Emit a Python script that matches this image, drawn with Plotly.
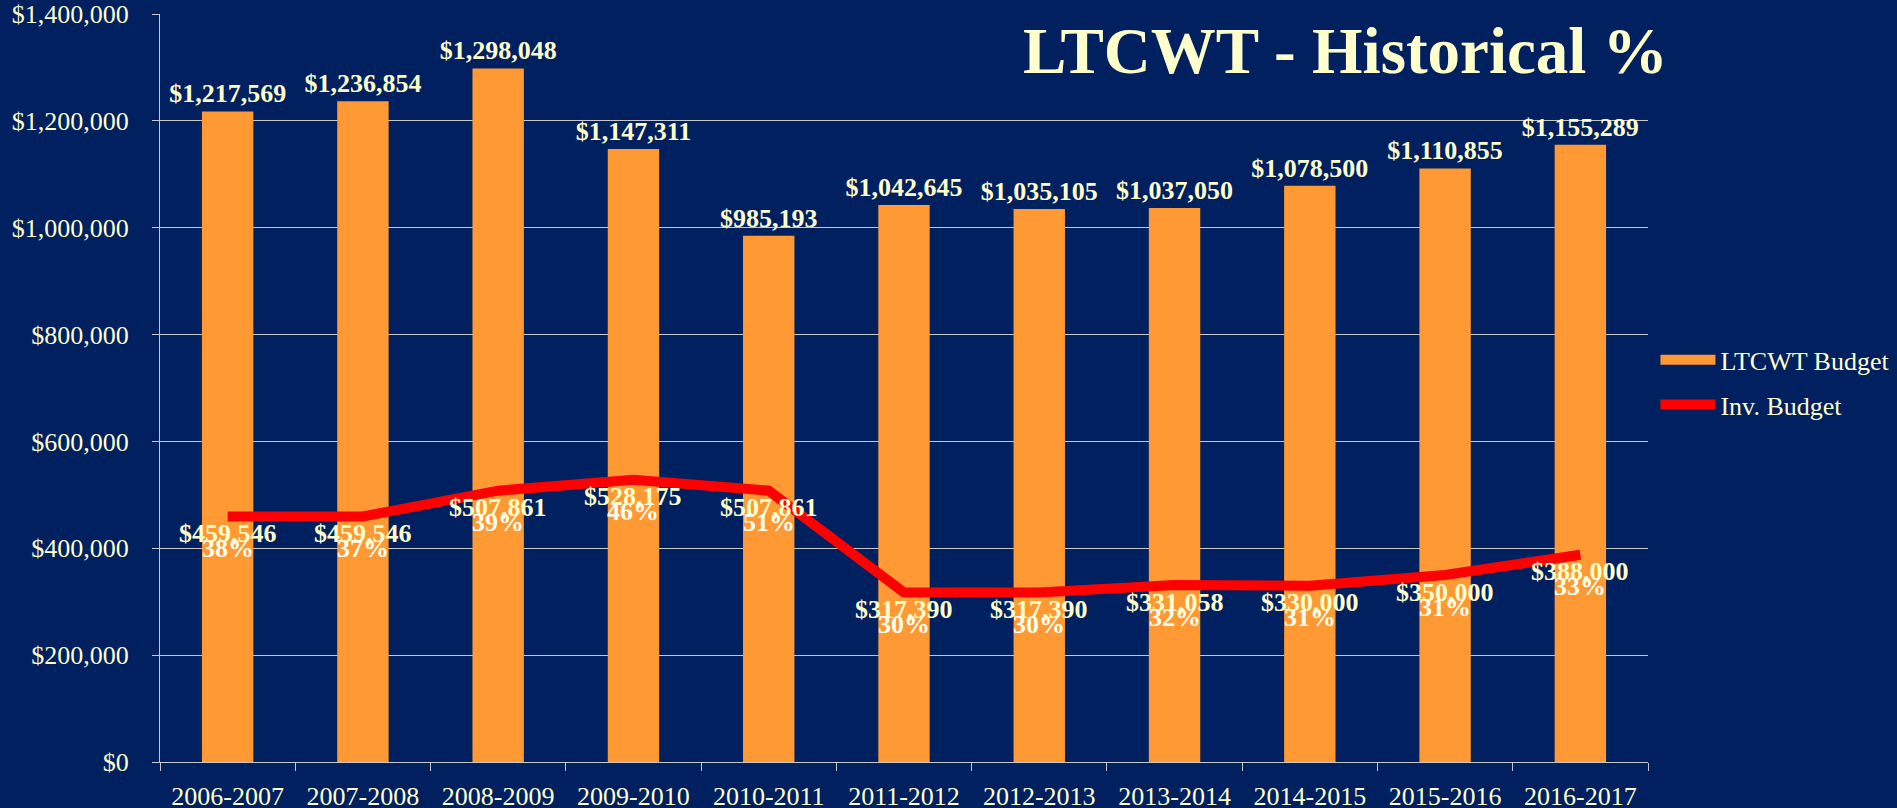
import plotly.graph_objects as go

categories = ["2006-2007", "2007-2008", "2008-2009", "2009-2010", "2010-2011", "2011-2012",
              "2012-2013", "2013-2014", "2014-2015", "2015-2016", "2016-2017"]
ltcwt_budget = [1217569, 1236854, 1298048, 1147311, 985193, 1042645,
                1035105, 1037050, 1078500, 1110855, 1155289]
inv_budget = [459546, 459546, 507861, 528175, 507861, 317390,
              317390, 331058, 330000, 350000, 388000]
inv_pct = [38, 37, 39, 46, 51, 30, 30, 32, 31, 31, 33]

FONT = "Liberation Serif"
CREAM = "#FFFFCC"
BG = "#002060"
ORANGE = "#FF9933"

fig = go.Figure()
fig.add_trace(go.Bar(
    x=categories, y=ltcwt_budget, name="LTCWT Budget",
    marker=dict(color=ORANGE, line=dict(width=0)),
    text=[f"${v:,}" for v in ltcwt_budget], textposition="outside",
    constraintext="none", cliponaxis=False,
    outsidetextfont=dict(family=FONT, size=26, color=CREAM, weight="bold"),
    showlegend=False,
))
# legend-only entry giving the bar series a wide rectangular swatch
fig.add_trace(go.Scatter(
    x=[None], y=[None], name="LTCWT Budget", mode="lines",
    line=dict(color=ORANGE, width=13), legendgroup="a",
))
fig.add_trace(go.Scatter(
    x=categories, y=inv_budget, name="Inv. Budget", mode="lines",
    line=dict(color="#FF0000", width=10), legendgroup="b",
))

annotations = []
for c, v, p in zip(categories, inv_budget, inv_pct):
    annotations.append(dict(x=c, y=v, xref="x", yref="y", text=f"${v:,}", showarrow=False,
                            yshift=-17, font=dict(family=FONT, size=26, color=CREAM, weight="bold")))
    annotations.append(dict(x=c, y=v, xref="x", yref="y", text=f"{p}%", showarrow=False,
                            yshift=-32, font=dict(family=FONT, size=26, color="#FFFFF0", weight="bold")))
annotations.append(dict(x=0.797, y=0.9505, xref="paper", yref="paper", text="LTCWT - Historical %",
                        showarrow=False, xanchor="center", yanchor="middle",
                        font=dict(family=FONT, size=65, color=CREAM, weight="bold")))

fig.update_layout(
    width=1897, height=808,
    margin=dict(l=160, r=249, t=14, b=46, autoexpand=False),
    paper_bgcolor=BG, plot_bgcolor=BG,
    bargap=0.62,
    showlegend=True,
    legend=dict(x=1.005, y=0.569, xanchor="left", yanchor="top",
                font=dict(family=FONT, size=26, color=CREAM), itemwidth=55,
                bgcolor="rgba(0,0,0,0)", tracegroupgap=8, traceorder="grouped"),
    annotations=annotations,
    xaxis=dict(showgrid=False, showline=True, linecolor="#C8C8C8", linewidth=1,
               ticks="outside", tickson="boundaries", ticklen=8, tickcolor="#C8C8C8",
               tickfont=dict(family=FONT, size=26, color=CREAM), ticklabelstandoff=11,
               automargin=False),
    yaxis=dict(range=[0, 1400000], dtick=200000, tickprefix="$", tickformat=",d",
               showgrid=True, gridcolor="#C8C8C8", gridwidth=1,
               showline=True, linecolor="#C8C8C8", linewidth=1, zeroline=False,
               ticks="outside", ticklen=7, tickcolor="#C8C8C8",
               tickfont=dict(family=FONT, size=26, color=CREAM), ticklabelstandoff=18,
               automargin=False),
)

fig.write_html("out.html", config={"displayModeBar": False},
               post_script="document.body.style.margin='0';document.body.style.overflow='hidden';")
